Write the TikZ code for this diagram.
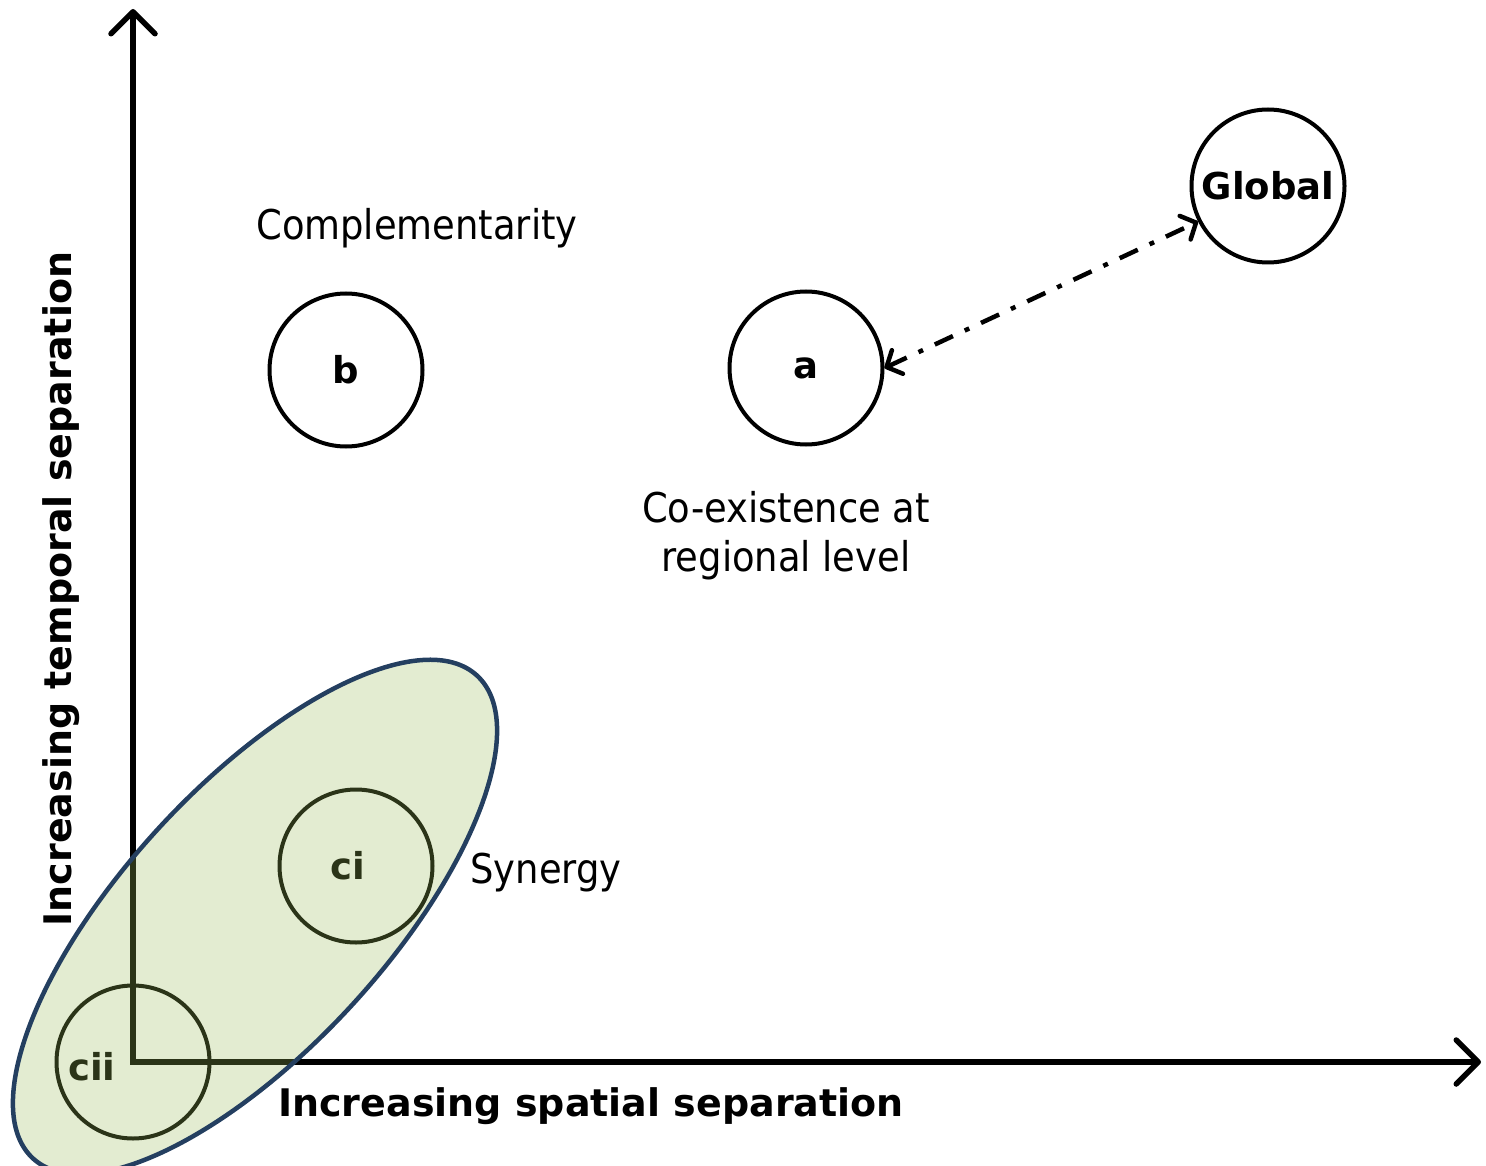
\documentclass[tikz,border=0pt]{standalone}
\usepackage{fontspec}
\setmainfont{DejaVu Sans Condensed}[BoldFont=DejaVu Sans Bold]
\usetikzlibrary{arrows.meta}
\definecolor{synfill}{HTML}{9BBB59}
\definecolor{synedge}{HTML}{243F60}

\begin{document}
\begin{tikzpicture}[x=1pt,y=-1pt,
  ring/.style={circle,draw,line width=4pt,minimum size=153pt,inner sep=0pt,font=\fontsize{37}{44}\selectfont\bfseries},
  lbl/.style={font=\fontsize{41}{49}\selectfont,inner sep=0pt},
  axlbl/.style={font=\fontsize{38}{45}\selectfont\bfseries,inner sep=0pt}]
\useasboundingbox (0,0) rectangle (1486,1166);

% axes
\coordinate (o) at (133,1062);
\coordinate (xend) at (1481,1062);
\coordinate (yend) at (133,9);
\draw[line width=5.5pt,{Straight Barb[length=22pt,width=44pt,round]}-{Straight Barb[length=22pt,width=44pt,round]}] (yend) -- (o) -- (xend);

\node[axlbl] at (591,1106) (xlab) {Increasing spatial separation};
\node[axlbl,rotate=90] at (61,589) (ylab) {Increasing temporal separation};

% circles
\node[ring] at (1268,186) (global) {Global};
\node[ring] at (806,368) (a) {a};
\node[ring] at (346,370) (b) {b};
\node[ring] at (356,866) (ci) {\hspace*{-16pt}ci};
\node[ring] at (133,1062) (cii) {};
\node[ring,draw=none,minimum size=0pt,anchor=base] at (92,1080) (ciitext) {cii};

\node[lbl,anchor=base] at (417,240) (compl) {Complementarity};
\node[lbl,align=center] at (786,536) (coex) {Co-existence at\\regional level};
\node[lbl,anchor=base] at (546,883) (syn) {Synergy};

\draw[line width=4.5pt,dash pattern=on 20pt off 13pt on 5pt off 13pt,
  {Straight Barb[length=12pt,width=26pt,round]}-{Straight Barb[length=12pt,width=26pt,round]}] (a.east) -- (global.207);

% synergy region
\draw[draw=synedge,line width=4.5pt,fill=synfill,fill opacity=0.28,rotate around={47.4:(255,917)}] (255,917) ellipse [x radius=328, y radius=131];
\end{tikzpicture}
\end{document}
